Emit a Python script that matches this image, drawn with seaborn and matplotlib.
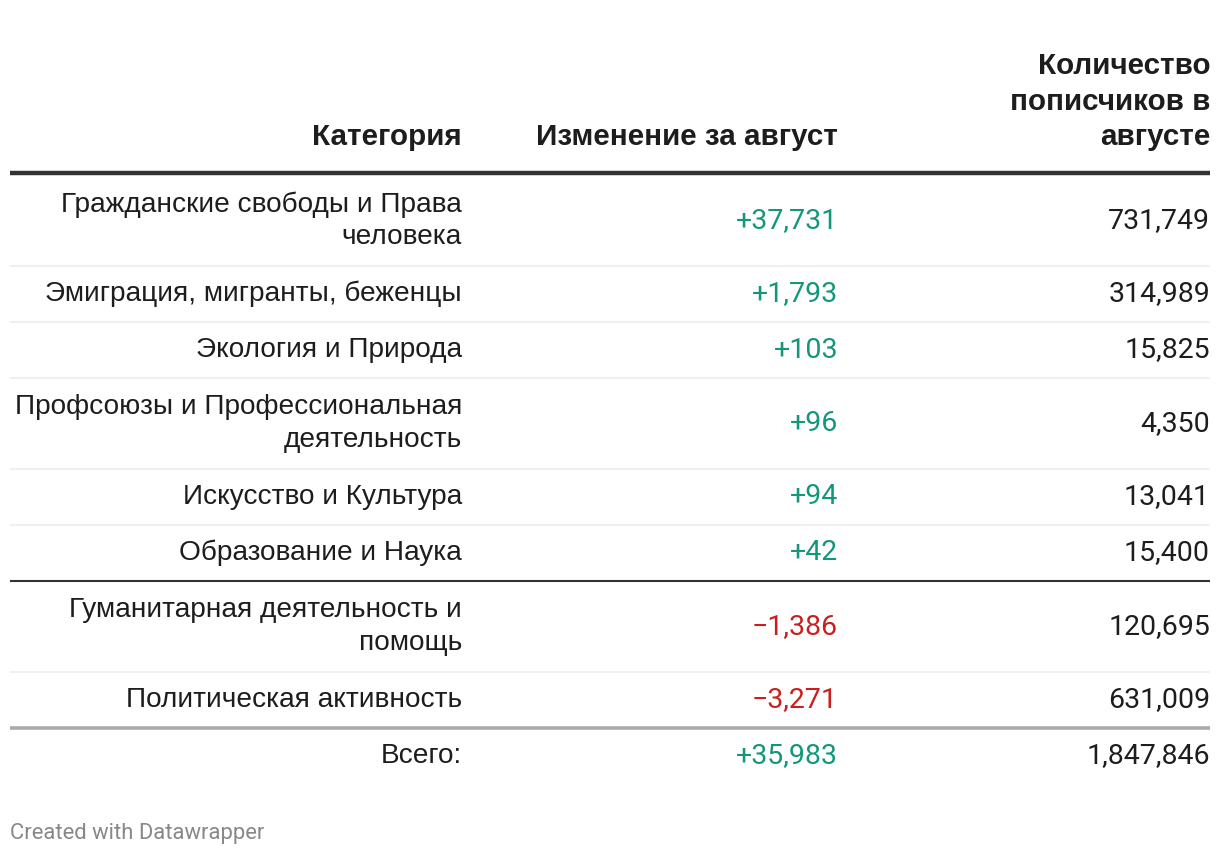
import matplotlib.pyplot as plt
import seaborn as sns

# Table data
categories = [
    "Гражданские свободы и Права\nчеловека",
    "Эмиграция, мигранты, беженцы",
    "Экология и Природа",
    "Профсоюзы и Профессиональная\nдеятельность",
    "Искусство и Культура",
    "Образование и Наука",
    "Гуманитарная деятельность и\nпомощь",
    "Политическая активность",
]
changes = [37731, 1793, 103, 96, 94, 42, -1386, -3271]
subscribers = [731749, 314989, 15825, 4350, 13041, 15400, 120695, 631009]
headers = ["Категория", "Изменение за август", "Количество\nпописчиков в\nавгусте"]
total_label = "Всего:"
total_change = 35983
total_subs = 1847846

GREEN = "#12977a"
RED = "#c91f1f"
TEXT = "#1d1d1d"

sns.set_theme(style="white")
plt.rcParams["font.family"] = ["Liberation Sans", "DejaVu Sans"]

fig, ax = plt.subplots(figsize=(12.2, 8.58), dpi=100)
fig.subplots_adjust(0, 0, 1, 1)
ax.set_xlim(0, 1220)
ax.set_ylim(858, 0)
ax.axis("off")

col_x = [462, 838, 1210]
left = 10
body_size = 20.2
num_size = 20.5
head_size = 21.3
num_font = ["Roboto", "DejaVu Sans"]


def fmt_change(v):
    return f"+{v:,}" if v >= 0 else f"\u2212{abs(v):,}"


# Header
for x, h in zip(col_x, headers):
    ax.text(x, 145, h, ha="right", va="baseline", fontsize=head_size,
            fontweight="bold", color=TEXT, linespacing=1.33, multialignment="right")
ax.plot([left, 1210], [173, 173], color="#333333", lw=3.2, solid_capstyle="butt")

# Body rows
y = 175
for i, (cat, ch, sub) in enumerate(zip(categories, changes, subscribers)):
    n = cat.count("\n") + 1
    h = 56 + 35 * (n - 1)
    yc = y + h / 2
    ax.text(col_x[0], yc, cat, ha="right", va="center", fontsize=body_size,
            color=TEXT, linespacing=1.32, multialignment="right")
    ax.text(col_x[1], yc, fmt_change(ch), ha="right", va="center", fontsize=num_size,
            color=GREEN if ch >= 0 else RED, family=num_font)
    ax.text(col_x[2], yc, f"{sub:,}", ha="right", va="center", fontsize=num_size,
            color=TEXT, family=num_font)
    y += h
    if i == len(categories) - 1:
        ax.plot([left, 1210], [y, y], color="#aaaaaa", lw=2.6, solid_capstyle="butt")
    elif changes[i] >= 0 and changes[i + 1] < 0:
        ax.plot([left, 1210], [y, y], color="#333333", lw=1.5, solid_capstyle="butt")
    else:
        ax.plot([left, 1210], [y, y], color="#eeeeee", lw=1.2, solid_capstyle="butt")

# Total row
yc = y + 28
ax.text(col_x[0], yc, total_label, ha="right", va="center", fontsize=body_size, color=TEXT)
ax.text(col_x[1], yc, fmt_change(total_change), ha="right", va="center",
        fontsize=num_size, color=GREEN, family=num_font)
ax.text(col_x[2], yc, f"{total_subs:,}", ha="right", va="center",
        fontsize=num_size, color=TEXT, family=num_font)

ax.text(left, 833, "Created with Datawrapper", ha="left", va="center",
        fontsize=15.8, color="#888888", family=num_font)

fig.savefig("out.png", dpi=100)
